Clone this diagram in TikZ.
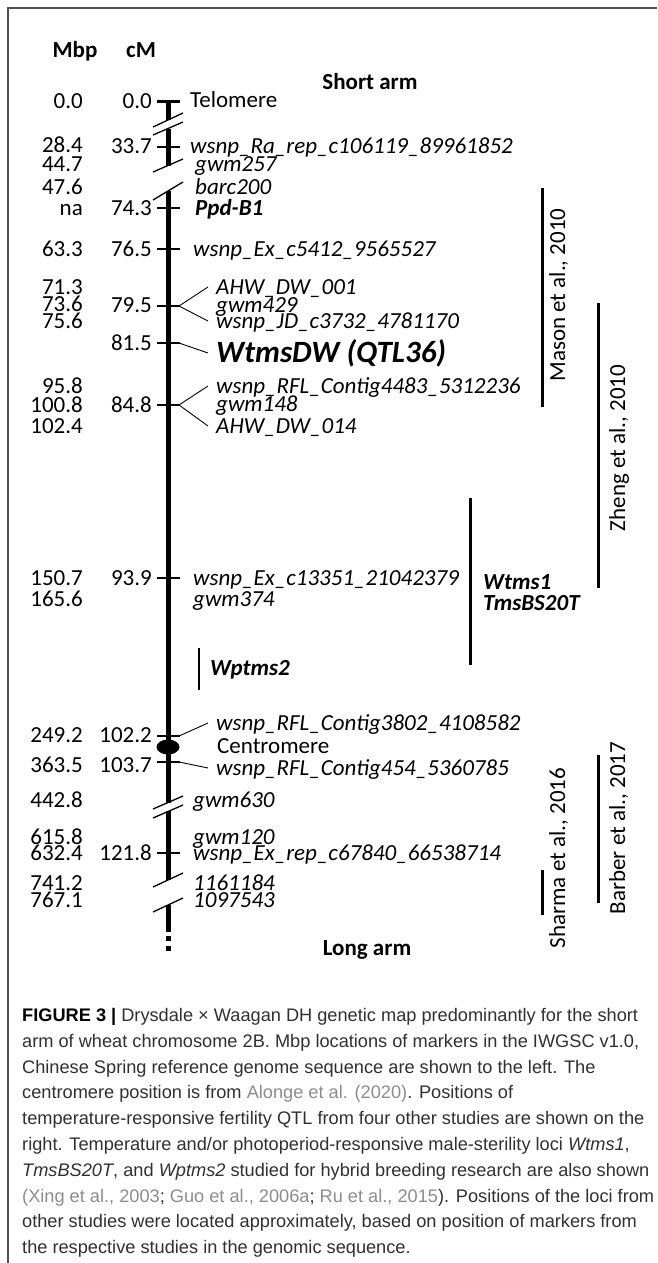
\documentclass[tikz,border=0pt]{standalone}
\usepackage{fontspec}
\setmainfont{Carlito}
\newfontfamily\capfont{Liberation Sans}
\usetikzlibrary{positioning}
\definecolor{captext}{HTML}{303030}
\definecolor{citegray}{HTML}{8C8C8C}
\definecolor{framegray}{HTML}{505050}

\begin{document}
\begin{tikzpicture}[x=1pt, y=-1pt,
    lbl/.style={inner sep=0pt, font=\fontsize{23}{25}\selectfont, text height=14pt, text depth=0pt},
    num/.style={lbl, anchor=east},
    mk/.style={lbl, anchor=west, font=\fontsize{23}{25}\selectfont\itshape},
    fan/.style={mk, inner xsep=8pt},
    locus/.style={lbl, anchor=west, font=\fontsize{23}{25}\selectfont\bfseries\itshape},
    study/.style={lbl, rotate=90},
    head/.style={lbl, font=\fontsize{23}{25}\selectfont\bfseries},
    chrom/.style={line width=5pt},
    tick/.style={line width=2pt},
    brk/.style={line width=1.3pt},
    link/.style={line width=0.9pt},
    qtlbar/.style={line width=3pt}]
    \useasboundingbox (0,0) rectangle (657,1263);

    % ===== frame =====
    \draw[framegray, line width=2pt] (657,8) -- (8,8) -- (8,1263);

    % ===== headings =====
    \node[head] (mbp) at (75,50) {Mbp};
    \node[head] (cm) at (141,50) {cM};
    \node[head] (short) at (370,82) {Short arm};
    \node[head] (long) at (367,948) {Long arm};

    % ===== chromosome =====
    \def\xc{168}
    \draw[chrom] (\xc,101) -- (\xc,120);
    \draw[chrom] (\xc,129) -- (\xc,166);
    \draw[chrom] (\xc,191) -- (\xc,803);
    \draw[chrom] (\xc,811) -- (\xc,880);
    \draw[chrom] (\xc,905) -- (\xc,932);
    \draw[chrom, dash pattern=on 5pt off 5pt] (\xc,936) -- (\xc,952);
    \draw[line width=3pt] (157,101) -- (180,101);
    \fill (\xc,747) ellipse [x radius=11.5, y radius=7.5];

    % breaks
    \foreach \ya/\yb in {127/113, 135/122, 172/159, 200/182, 809/796, 818/805, 887/873, 912/898}
        \draw[brk] (153,\ya) -- (183,\yb);

    % ticks
    \foreach \ty in {147,208,249,306,343,405,578,736,762,853}
        \draw[tick] (157,\ty) -- (180,\ty);

    % ===== Mbp and cM =====
    \foreach \yy/\mb in {101/0.0, 145/28.4, 164/44.7, 187/47.6, 208/na, 249/63.3,
        287/71.3, 304/73.6, 321/75.6, 386/95.8, 405/100.8, 426/102.4, 578/150.7,
        599/165.6, 735/249.2, 765/363.5, 800/442.8, 837/615.8, 853/632.4,
        883/741.2, 900/767.1}
        \node[num] (mbp\yy) at (83,\yy) {\mb};
    \foreach \yy/\mb in {101/0.0, 146/33.7, 208/74.3, 249/76.5, 305/79.5, 343/81.5,
        405/84.8, 578/93.9, 735/102.2, 765/103.7, 853/121.8}
        \node[num] (cm\yy) at (152,\yy) {\mb};

    % ===== markers =====
    \node[lbl, anchor=west] (tel) at (190,100) {Telomere};
    \node[mk] (ra) at (190,146) {wsnp\_Ra\_rep\_c106119\_89961852};
    \node[mk] (g257) at (195,164) {gwm257};
    \node[mk] (b200) at (195,187) {barc200};
    \node[locus] (ppd) at (195,208) {Ppd-B1};
    \node[mk] (ex5412) at (193,249) {wsnp\_Ex\_c5412\_9565527};
    \node[fan] (ahw1) at (208,287) {AHW\_DW\_001};
    \node[mk] (g429) at (216,305) {gwm429};
    \node[fan] (jd) at (208,321) {wsnp\_JD\_c3732\_4781170};
    \node[fan, font=\fontsize{31}{33}\selectfont\bfseries\itshape, text height=19pt] (qtl) at (208,353) {WtmsDW (QTL36)};
    \node[fan] (rfl4483) at (208,386) {wsnp\_RFL\_Contig4483\_5312236};
    \node[mk] (g148) at (216,404) {gwm148};
    \node[fan] (ahw14) at (208,426) {AHW\_DW\_014};
    \node[mk] (ex13351) at (193,578) {wsnp\_Ex\_c13351\_21042379};
    \node[mk] (g374) at (193,599) {gwm374};
    \node[fan] (rfl3802) at (208,723) {wsnp\_RFL\_Contig3802\_4108582};
    \node[lbl, anchor=west] (cen) at (217,746) {Centromere};
    \node[fan] (rfl454) at (208,768) {wsnp\_RFL\_Contig454\_5360785};
    \node[mk] (g630) at (193,800) {gwm630};
    \node[mk] (g120) at (193,837) {gwm120};
    \node[mk] (exrep) at (193,853) {wsnp\_Ex\_rep\_c67840\_66538714};
    \node[mk] (m1161) at (193,883) {1161184};
    \node[mk] (m1097) at (193,900) {1097543};

    % fan links
    \coordinate (j795) at (179,306);
    \coordinate (j815) at (179,343);
    \coordinate (j848) at (179,405);
    \coordinate (j1022) at (179,736);
    \coordinate (j1037) at (179,762);
    \draw[link] (j795) -- (ahw1.west);
    \draw[link] (j795) -- (jd.west);
    \draw[link] (j815) -- (qtl.west);
    \draw[link] (j848) -- (rfl4483.west);
    \draw[link] (j848) -- (ahw14.west);
    \draw[link] (j1022) -- (rfl3802.west);
    \draw[link] (j1037) -- (rfl454.west);

    % ===== sterility loci =====
    \draw[line width=2.5pt] (199,648) -- (199,690);
    \node[locus] (wpt) at (210,668) {Wptms2};
    \draw[qtlbar] (470,498) -- (470,665);
    \node[locus] (wtms) at (483,582) {Wtms1};
    \node[locus] (tms) at (483,603) {TmsBS20T};

    % ===== other studies =====
    \draw[qtlbar] (542,188) -- (542,407);
    \node[study] (mason) at (558,295) {Mason et al., 2010};
    \draw[qtlbar] (598,303) -- (598,588);
    \node[study] (zheng) at (618,448) {Zheng et al., 2010};
    \draw[qtlbar] (542,870) -- (542,915);
    \node[study] (sharma) at (558,858) {Sharma et al., 2016};
    \draw[qtlbar] (598,755) -- (598,903);
    \node[study] (barber) at (618,828) {Barber et al., 2017};

    % ===== caption =====
    \node[anchor=north west, align=left, inner sep=0pt, text=captext,
        font=\capfont\fontsize{18.2}{25.8}\selectfont] (caption) at (22,1008)
        {\textbf{\color{black}FIGURE 3 |} Drysdale × Waagan DH genetic map predominantly for the short\\
         arm of wheat chromosome 2B. Mbp locations of markers in the IWGSC v1.0,\\
         Chinese Spring reference genome sequence are shown to the left. The\\
         centromere position is from \textcolor{citegray}{Alonge et al. (2020)}. Positions of\\
         temperature-responsive fertility QTL from four other studies are shown on the\\
         right. Temperature and/or photoperiod-responsive male-sterility loci \textit{Wtms1},\\
         \textit{TmsBS20T}, and \textit{Wptms2} studied for hybrid breeding research are also shown\\
         \textcolor{citegray}{(Xing et al., 2003}; \textcolor{citegray}{Guo et al., 2006a}; \textcolor{citegray}{Ru et al., 2015}). Positions of the loci from\\
         other studies were located approximately, based on position of markers from\\
         the respective studies in the genomic sequence.};
\end{tikzpicture}
\end{document}
